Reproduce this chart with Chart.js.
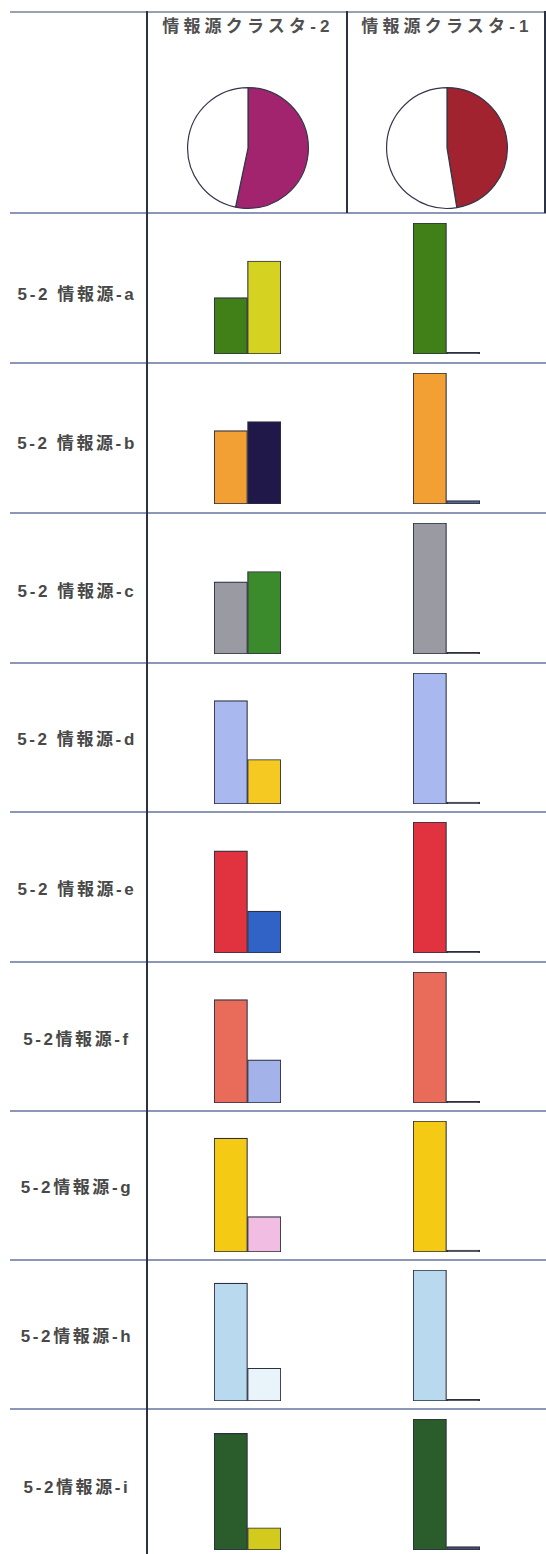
<!DOCTYPE html>
<html>
<head>
<meta charset="utf-8">
<script src="https://cdn.jsdelivr.net/npm/chart.js@4/dist/chart.umd.min.js"></script>
<style>
  html, body { margin:0; padding:0; background:#fff; }
  #page { position:relative; width:546px; height:1554px; overflow:hidden; background:#fff;
          font-family:"Liberation Sans","Noto Sans CJK JP",sans-serif; }
  .hline { position:absolute; left:10px; right:0; height:2px; background:#8c96b6; }
  .vline { position:absolute; width:2px; background:#2c3244; }
  .head { position:absolute; top:13px; height:28px; line-height:28px; text-align:center;
          font-size:17px; letter-spacing:4.2px; color:#505050; font-weight:700; white-space:nowrap; }
  .rlab { position:absolute; left:10px; width:134px; text-align:center; font-size:17px;
          letter-spacing:2.6px; color:#484848; font-weight:700; white-space:nowrap; height:24px; line-height:24px; }
  canvas { position:absolute; }
</style>
</head>
<body>
<div id="page"></div>
<script>
// ---------- data ----------
const clusterLabels = ['情報源クラスタ-2', '情報源クラスタ-1'];
const pieShareCluster2 = [53.3, 46.7];
const pieShareCluster1 = [47.4, 52.6];
const rowLabels = ['5-2 情報源-a','5-2 情報源-b','5-2 情報源-c','5-2 情報源-d','5-2 情報源-e',
                   '5-2情報源-f','5-2情報源-g','5-2情報源-h','5-2情報源-i'];
const barCategories = ['1', '2'];
const cluster2Values = [[43,71],[56,63],[55,63],[79,34],[78,32],[79,33],[87,27],[90,25],[89,17]];
const cluster1Values = [[100,1.2],[100,2.6],[100,1.2],[100,1.4],[100,1.2],[100,1.2],[100,1.4],[100,1.2],[100,2.6]];

// ---------- styles ----------
const pieColors2 = ['#a3246e', '#ffffff'];
const pieColors1 = ['#a1232f', '#ffffff'];
const firstColors  = ['#418019','#f29f33','#9a9ba2','#a9b9ef','#e0333f','#e96b5a','#f4ca14','#b9d9ef','#2b5c2b'];
const secondColors = ['#d6d221','#1f1849','#3b8a2c','#f6c822','#3163c6','#a3b3ea','#f2bde2','#e9f4fa','#d2cb1e'];
const tinyColors   = ['#222','#56688c','#222','#222','#222','#222','#222','#222','#4a4c6c'];
const rowTops = [213, 363, 513, 663, 812, 962, 1111, 1260, 1409];
const labelY = [295, 444, 592, 740, 890, 1040, 1188, 1337, 1488];

const page = document.getElementById('page');
function div(cls, css, text) {
  const d = document.createElement('div');
  d.className = cls;
  Object.assign(d.style, css);
  if (text !== undefined) d.textContent = text;
  page.appendChild(d);
  return d;
}
function canvas(x, y, w, h) {
  const c = document.createElement('canvas');
  c.width = w; c.height = h;
  c.style.left = x + 'px'; c.style.top = y + 'px';
  c.style.width = w + 'px'; c.style.height = h + 'px';
  page.appendChild(c);
  return c;
}

// table lines
div('hline', {top: '11px', background:'#9aa0b0'});
rowTops.forEach(t => div('hline', {top: (t - 1) + 'px'}));
div('vline', {left:'146px', top:'11px', height:'1543px'});
div('vline', {left:'346px', top:'11px', height:'202px'});
div('vline', {left:'544px', top:'11px', height:'202px'});

// headers
div('head', {left:'150px', width:'196px'}, clusterLabels[0]);
div('head', {left:'349px', width:'196px'}, clusterLabels[1]);

// row labels
rowLabels.forEach((l, i) => div('rlab', {top: (labelY[i] - 12) + 'px'}, l));

Chart.defaults.animation = false;

function pie(x, y, data, colors) {
  const c = canvas(x, y, 124, 124);
  new Chart(c, {
    type: 'pie',
    data: { labels: ['a','b'], datasets: [{ data: data, backgroundColor: colors,
            borderColor: '#33364a', borderWidth: 1.2 }] },
    options: { responsive:false, devicePixelRatio:1, layout:{padding:1},
      plugins:{ legend:{display:false}, tooltip:{enabled:false} } }
  });
}
pie(186, 86, pieShareCluster2, pieColors2);
pie(385, 86, pieShareCluster1, pieColors1);

function bars(x, y, vals, colors) {
  const c = canvas(x, y, 67, 131);
  new Chart(c, {
    type: 'bar',
    data: { labels: barCategories, datasets: [{ data: vals, backgroundColor: colors,
            borderColor: '#2b2f3f', borderWidth: 1.2, borderSkipped: false,
            categoryPercentage: 1, barPercentage: 1 }] },
    options: { responsive:false, devicePixelRatio:1, layout:{padding:0},
      plugins:{ legend:{display:false}, tooltip:{enabled:false} },
      scales:{ x:{display:false}, y:{display:false, min:0, max:100} } }
  });
}
rowTops.forEach((t, i) => {
  bars(214, t + 10, cluster2Values[i], [firstColors[i], secondColors[i]]);
  bars(413, t + 10, cluster1Values[i], [firstColors[i], tinyColors[i]]);
});
</script>
</body>
</html>
